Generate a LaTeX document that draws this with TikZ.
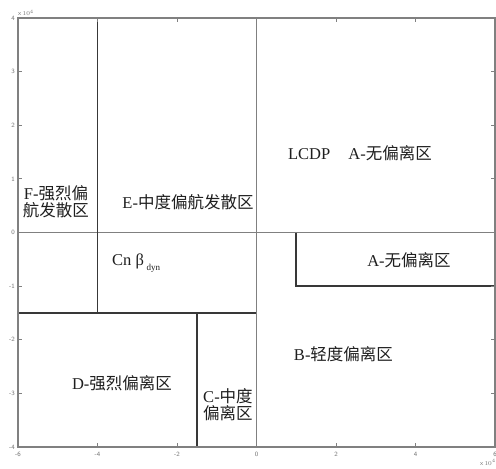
\documentclass[tikz,border=0pt]{standalone}
\usepackage{fontspec}
\setmainfont{Liberation Serif}
\newfontfamily\cjk{Noto Sans CJK SC}
\newcommand{\zh}[1]{{\cjk #1}}
\begin{document}
\begin{tikzpicture}[x=39.75pt,y=53.6pt,
  axisline/.style={draw=black!50,line width=1.3pt},
  zoneline/.style={draw=black!78,line width=1.8pt},
  tickmark/.style={draw=black!50,line width=0.8pt},
  lbl/.style={font=\fontsize{16.5}{17}\selectfont,text=black!88,align=center,inner sep=0pt},
  ticklbl/.style={font=\sffamily\fontsize{6.5}{7}\selectfont,text=black!55,inner sep=0pt}]
\useasboundingbox (-256.5pt,-236.5pt) rectangle (239.5pt,232.5pt);
\fill[white] (-256.5pt,-236.5pt) rectangle (239.5pt,232.5pt);
% inner thin lines
\draw[axisline] (-6,0) -- (6,0);
\draw[axisline] (0,-4) -- (0,4);
% zone borders
\draw[zoneline] (-4,4) -- (-4,-1.5);
\draw[zoneline] (-6,-1.5) -- (0,-1.5);
\draw[zoneline] (-1.5,-1.5) -- (-1.5,-4);
\draw[zoneline] (1,0) -- (1,-1) -- (6,-1);
% axes box
\draw[axisline] (-6,-4) rectangle (6,4);
% ticks and labels
\foreach \v in {-4,...,4} {
  \draw[tickmark] (-6,\v) -- ++(4pt,0);
  \draw[tickmark] (6,\v) -- ++(-4pt,0);
  \node[ticklbl,anchor=east] (yl\v) at ([xshift=-3pt]-6,\v) {\v};
}
\foreach \u in {-6,-4,...,6} {
  \draw[tickmark] (\u,-4) -- ++(0,4pt);
  \draw[tickmark] (\u,4) -- ++(0,-4pt);
  \node[ticklbl,anchor=north] (xl\u) at ([yshift=-5pt]\u,-4) {\u};
}
\node[ticklbl,anchor=south west] (ey) at ([yshift=2pt]-6,4) {x$\,10^{4}$};
\node[ticklbl,anchor=north east] (ex) at (239.5pt,-227pt) {x$\,10^{4}$};
% zone labels
\node[lbl] (F) at (-200.5pt,30.5pt) {F-\zh{强烈偏}\\\zh{航发散区}};
\node[lbl] (E) at (-68.5pt,30.5pt) {E-\zh{中度偏航发散区}};
\node[lbl] (L) at (103.5pt,79.5pt) {LCDP\hspace{1.1em}A-\zh{无偏离区}};
\node[lbl] (A) at (152.5pt,-27.5pt) {A-\zh{无偏离区}};
\node[lbl,anchor=west] (Cn) at (-144.5pt,-30.5pt) {Cn β\,\raisebox{-0.6ex}{\fontsize{9}{10}\selectfont dyn}};
\node[lbl] (B) at (87pt,-121.5pt) {B-\zh{轻度偏离区}};
\node[lbl] (D) at (-134.5pt,-150.5pt) {D-\zh{强烈偏离区}};
\node[lbl] (C) at (-28.5pt,-172.5pt) {C-\zh{中度}\\\zh{偏离区}};
\end{tikzpicture}
\end{document}
